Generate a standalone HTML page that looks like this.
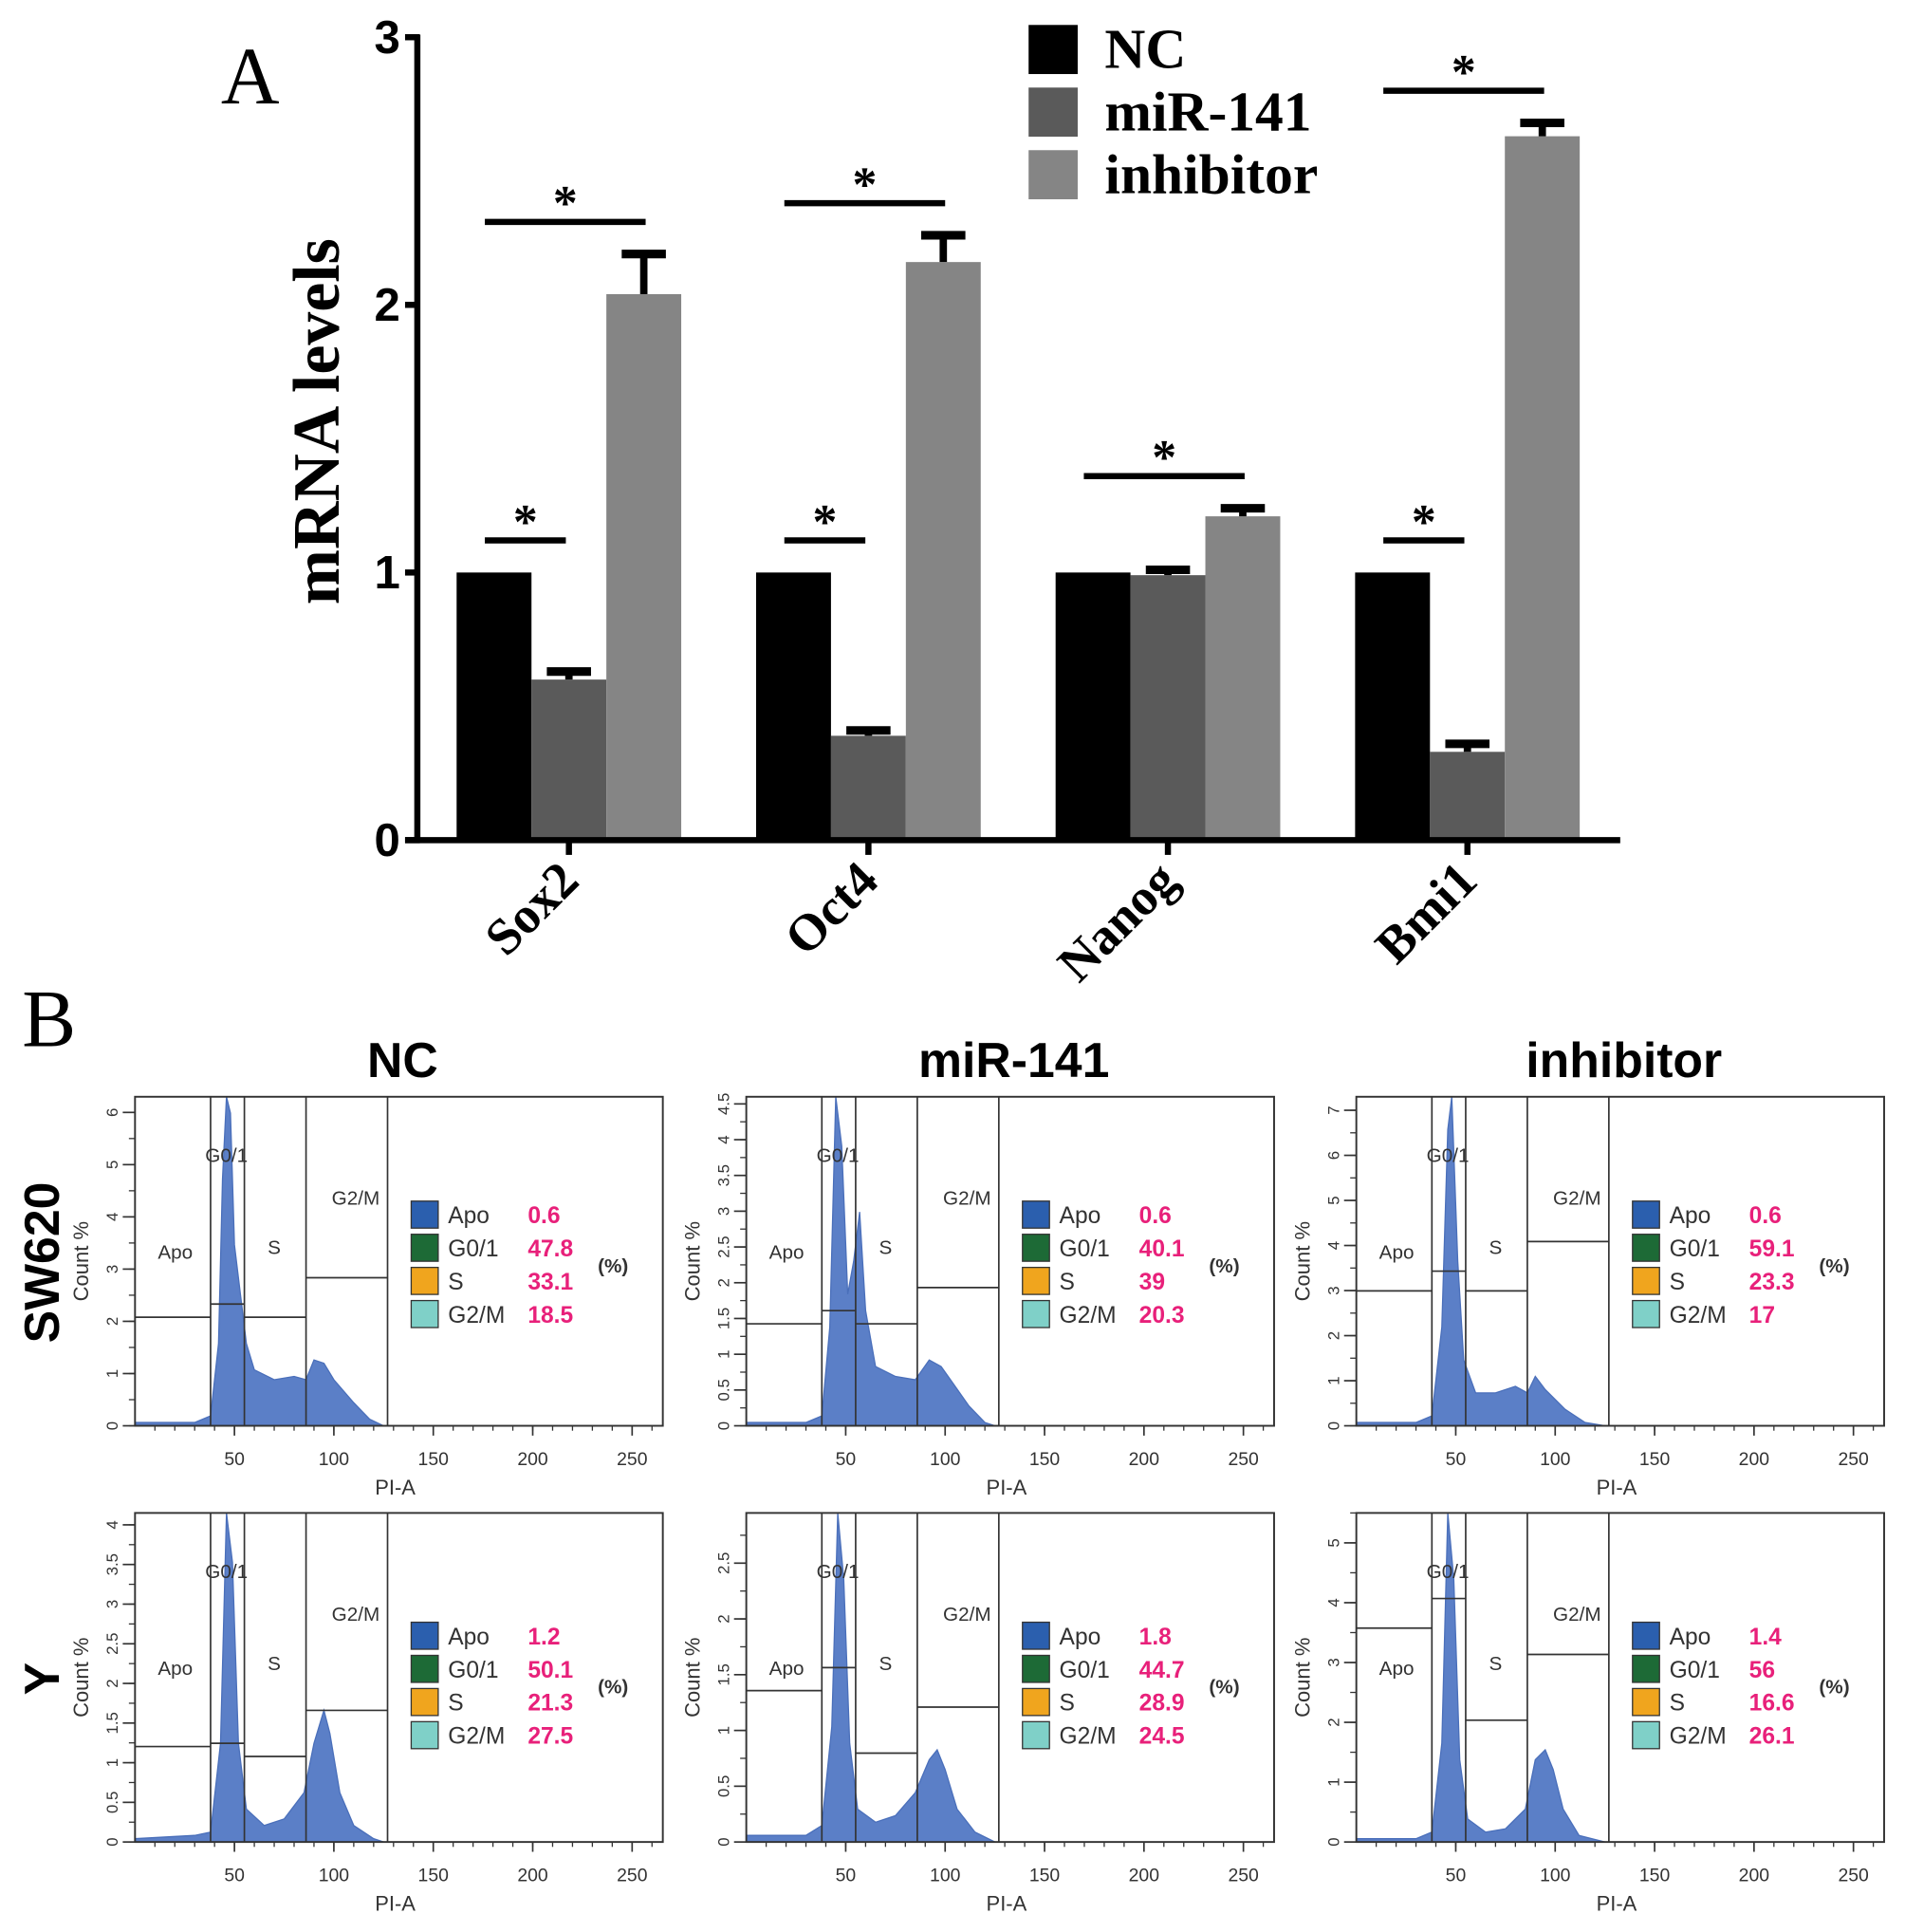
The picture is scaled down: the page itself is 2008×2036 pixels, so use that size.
<!DOCTYPE html>
<html><head><meta charset="utf-8"><style>
html,body{margin:0;padding:0;background:#fff}
svg{display:block}
</style></head><body>
<svg id="fig" width="2008" height="2036" viewBox="0 0 1552 1573" xmlns="http://www.w3.org/2000/svg">
<g id="panelA"></g>
<g id="panelB"></g>
</svg>
<script>
const NS="http://www.w3.org/2000/svg";
const categories=["Sox2","Oct4","Nanog","Bmi1"];
const seriesNames=["NC","miR-141","inhibitor"];
const ncValues=[1,1,1,1];
const mirValues=[0.60,0.39,0.99,0.33];
const inhValues=[2.04,2.16,1.21,2.63];
const mirErr=[0.03,0.02,0.02,0.03];
const inhErr=[0.15,0.10,0.03,0.05];
const shortSig=[true,true,false,true];
const yTicks=[0,1,2,3];
const colors=["#000000","#5a5a5a","#858585"];

function mk(tag,attrs,parent,text){const e=document.createElementNS(NS,tag);for(const k in attrs)e.setAttribute(k,attrs[k]);if(text!==undefined)e.textContent=text;parent.appendChild(e);return e;}

const A=document.getElementById('panelA');
const y0=684, unit=218, xStart=372, groupGap=244, bw=61;
const yS=v=>y0-v*unit;
const gx=i=>xStart+i*groupGap;
let t;
t=mk('text',{x:180,y:84,'font-family':'Liberation Serif, serif','font-size':66},A,'A');

t=mk('text',{transform:'translate(276,343) rotate(-90)','text-anchor':'middle','font-family':'Liberation Serif, serif','font-weight':'bold','font-size':54},A,'mRNA levels');

yTicks.forEach(v=>{
  const l=mk('line',{x1:330,x2:342,y1:yS(v),y2:yS(v),stroke:'#000','stroke-width':5},A);
  
  const tx=mk('text',{x:326,y:yS(v)+13,'text-anchor':'end','font-family':'Liberation Sans, sans-serif','font-weight':'bold','font-size':38},A,String(v));
  
});
const series=[ncValues,mirValues,inhValues];
const errs=[null,mirErr,inhErr];
categories.forEach((c,i)=>{
  series.forEach((vals,s)=>{
    const x=gx(i)+s*bw, v=vals[i];
    const r=mk('rect',{x:x,y:yS(v),width:bw,height:y0-yS(v),fill:colors[s]},A);
    
    if(errs[s]){
      const e=errs[s][i];
      const g=mk('g',{},A);
      
      mk('line',{x1:x+bw/2,x2:x+bw/2,y1:yS(v),y2:yS(v+e),stroke:'#000','stroke-width':6},g);
      mk('line',{x1:x+bw/2-18,x2:x+bw/2+18,y1:yS(v+e),y2:yS(v+e),stroke:'#000','stroke-width':7},g);
    }
  });
  const cx=gx(i)+1.5*bw;
  const tk=mk('line',{x1:cx,x2:cx,y1:y0,y2:y0+12,stroke:'#000','stroke-width':5},A);
  
  const lb=mk('text',{transform:`translate(${cx+10},${y0+35}) rotate(-45)`,'text-anchor':'end','font-family':'Liberation Serif, serif','font-weight':'bold','font-size':42},A,c);
  
  const sig=(x1,x2,v)=>{
    const g=mk('g',{},A);
    
    mk('line',{x1:x1,x2:x2,y1:yS(v),y2:yS(v),stroke:'#000','stroke-width':5},g);
    mk('text',{x:(x1+x2)/2,y:yS(v)-2,'text-anchor':'middle','font-family':'Liberation Serif, serif','font-weight':'bold','font-size':40},g,'*');
  };
  const sx=gx(i)+23;
  if(shortSig[i]) sig(sx,sx+66,ncValues[i]+0.12);
  sig(sx,sx+131,inhValues[i]+inhErr[i]+0.12);
});
let ax=mk('line',{x1:340,x2:340,y1:28,y2:y0+2,stroke:'#000','stroke-width':5},A);

ax=mk('line',{x1:330,x2:1320,y1:y0,y2:y0,stroke:'#000','stroke-width':5},A);

seriesNames.forEach((n,s)=>{
  const g=mk('g',{},A);
  
  mk('rect',{x:838,y:20+s*51,width:40,height:40,fill:colors[s]},g);
  mk('text',{x:900,y:55+s*51,'font-family':'Liberation Serif, serif','font-weight':'bold','font-size':46},g,n);
});

// Panel B
const B=document.getElementById('panelB');
t=mk('text',{x:18,y:852,'font-family':'Liberation Serif, serif','font-size':66},B,'B');

const colTitles=["NC","miR-141","inhibitor"];
const colX=[110,608,1105];
const rowY=[893,1232];
const rowNames=["SW620","Y"];
colTitles.forEach((c,i)=>{const e=mk('text',{x:colX[i]+218,y:877,'text-anchor':'middle','font-family':'Liberation Sans, sans-serif','font-weight':'bold','font-size':40},B,c);
  });
rowNames.forEach((r,i)=>{const e=mk('text',{transform:`translate(48,${rowY[i]+135}) rotate(-90)`,'text-anchor':'middle','font-family':'Liberation Sans, sans-serif','font-weight':'bold','font-size':40},B,r);
  });

const phaseNames=["Apo","G0/1","S","G2/M"];
const phaseColors=["#2b5fae","#1d6a36","#f0a51e","#7fd0c8"];
const pctValues=[[0.6,47.8,33.1,18.5],[0.6,40.1,39,20.3],[0.6,59.1,23.3,17],[1.2,50.1,21.3,27.5],[1.8,44.7,28.9,24.5],[1.4,56,16.6,26.1]];
const yMax=[6.3,4.6,7.3,4.15,2.95,5.5];
const yStep=[1,0.5,1,0.5,0.5,1];
const gateLevels=[[0.33,0.37,0.33,0.45],[0.31,0.35,0.31,0.42],[0.41,0.47,0.41,0.56],[0.29,0.30,0.26,0.40],[0.46,0.53,0.27,0.41],[0.65,0.74,0.37,0.57]];
const gateEdges=[0,38,55,86,127];
const xTicks=[50,100,150,200,250];
const hist=[
 [[0,0.01],[30,0.01],[38,0.03],[42,0.25],[44,0.75],[46,1.0],[48,0.95],[50,0.55],[53,0.4],[56,0.25],[60,0.17],[70,0.14],[80,0.15],[86,0.14],[90,0.2],[95,0.19],[100,0.14],[110,0.07],[118,0.02],[125,0]],
 [[0,0.01],[30,0.01],[38,0.03],[42,0.3],[45,1.0],[48,0.85],[51,0.4],[54,0.5],[57,0.65],[60,0.35],[65,0.18],[75,0.15],[85,0.14],[92,0.2],[98,0.18],[105,0.12],[112,0.06],[120,0.01],[125,0]],
 [[0,0.01],[30,0.01],[38,0.03],[43,0.3],[46,0.9],[48,1.0],[51,0.5],[54,0.2],[60,0.1],[70,0.1],[80,0.12],[86,0.1],[90,0.15],[95,0.11],[105,0.05],[115,0.01],[125,0]],
 [[0,0.01],[30,0.02],[38,0.03],[43,0.3],[46,1.0],[49,0.85],[52,0.3],[56,0.1],[65,0.05],[75,0.07],[85,0.15],[90,0.3],[95,0.4],[98,0.33],[103,0.15],[110,0.05],[120,0.01],[125,0]],
 [[0,0.02],[30,0.02],[38,0.05],[43,0.35],[46,1.0],[49,0.8],[52,0.3],[56,0.1],[65,0.06],[75,0.08],[85,0.15],[92,0.25],[96,0.28],[100,0.22],[106,0.1],[115,0.03],[125,0]],
 [[0,0.01],[30,0.01],[38,0.03],[43,0.3],[46,1.0],[49,0.8],[52,0.25],[56,0.07],[65,0.03],[75,0.04],[85,0.1],[90,0.25],[95,0.28],[99,0.22],[104,0.1],[112,0.02],[125,0]]
];
const W=430,H=268,pxPer=81/50;
for(let r=0;r<2;r++)for(let c=0;c<3;c++){
  const k=r*3+c, x0=colX[c], yT=rowY[r], yB=yT+H;
  const g=mk('g',{},B);
  
  
  const xs=v=>x0+v*pxPer, ys=f=>yB-f*H;
  const pts=hist[k].map(p=>xs(p[0])+','+ys(p[1])).join(' ');
  const poly=mk('polygon',{points:xs(0)+','+yB+' '+pts+' '+xs(125)+','+yB,fill:'#5b7fc7',stroke:'#4a6fba','stroke-width':1},g);
  
  mk('rect',{x:x0,y:yT,width:W,height:H,fill:'none',stroke:'#333','stroke-width':1.5},g);
  for(let j=1;j<5;j++) mk('line',{x1:xs(gateEdges[j]),x2:xs(gateEdges[j]),y1:yT,y2:yB,stroke:'#333','stroke-width':1.3},g);
  for(let j=0;j<4;j++){const gy=ys(gateLevels[k][j]);mk('line',{x1:xs(gateEdges[j]),x2:xs(gateEdges[j+1]),y1:gy,y2:gy,stroke:'#333','stroke-width':1.3},g);}
  const lbl=(tx,x,y)=>mk('text',{x:x,y:y,'text-anchor':'middle','font-family':'Liberation Sans, sans-serif','font-size':16,fill:'#333'},g,tx);
  lbl('Apo',xs(19)+2,yT+132);lbl('G0/1',xs(46),yT+53);lbl('S',xs(70),yT+128);lbl('G2/M',xs(111),yT+88);
  xTicks.forEach(v=>{mk('line',{x1:xs(v),x2:xs(v),y1:yB,y2:yB+8,stroke:'#333','stroke-width':1.3},g);
    mk('text',{x:xs(v),y:yB+32,'text-anchor':'middle','font-family':'Liberation Sans, sans-serif','font-size':15,fill:'#333'},g,String(v));});
  for(let v=10;v<265;v+=10) mk('line',{x1:xs(v),x2:xs(v),y1:yB,y2:yB+4,stroke:'#333','stroke-width':1},g);
  mk('text',{x:x0+212,y:yB+56,'text-anchor':'middle','font-family':'Liberation Sans, sans-serif','font-size':17,fill:'#333'},g,'PI-A');
  const yv=v=>yB-v/yMax[k]*H;
  for(let v=0;v<=yMax[k]+1e-6;v+=yStep[k]){
    mk('line',{x1:x0-10,x2:x0,y1:yv(v),y2:yv(v),stroke:'#333','stroke-width':1.3},g);
    mk('text',{transform:`translate(${x0-14},${yv(v)}) rotate(-90)`,'text-anchor':'middle','font-family':'Liberation Sans, sans-serif','font-size':13,fill:'#333'},g,String(+v.toFixed(1)));
  }
  for(let v=0;v<=yMax[k];v+=yStep[k]/2) mk('line',{x1:x0-5,x2:x0,y1:yv(v),y2:yv(v),stroke:'#333','stroke-width':1},g);
  mk('text',{transform:`translate(${x0-38},${yT+134}) rotate(-90)`,'text-anchor':'middle','font-family':'Liberation Sans, sans-serif','font-size':17,fill:'#333'},g,'Count %');
  const lx=x0+225, ly=yT+85+(r?4:0);
  phaseNames.forEach((p,j)=>{
    const le=mk('g',{},g);
    
    mk('rect',{x:lx,y:ly+j*27,width:22,height:22,fill:phaseColors[j],stroke:'#333','stroke-width':1},le);
    mk('text',{x:lx+30,y:ly+j*27+18,'font-family':'Liberation Sans, sans-serif','font-size':19,fill:'#333'},le,p);
    mk('text',{x:lx+95,y:ly+j*27+18,'font-family':'Liberation Sans, sans-serif','font-weight':'bold','font-size':19,fill:'#e8207a'},le,String(pctValues[k][j]));
  });
  mk('text',{x:lx+152,y:ly+58,'font-family':'Liberation Sans, sans-serif','font-weight':'bold','font-size':16,fill:'#333'},g,'(%)');
}
</script>
</body></html>
